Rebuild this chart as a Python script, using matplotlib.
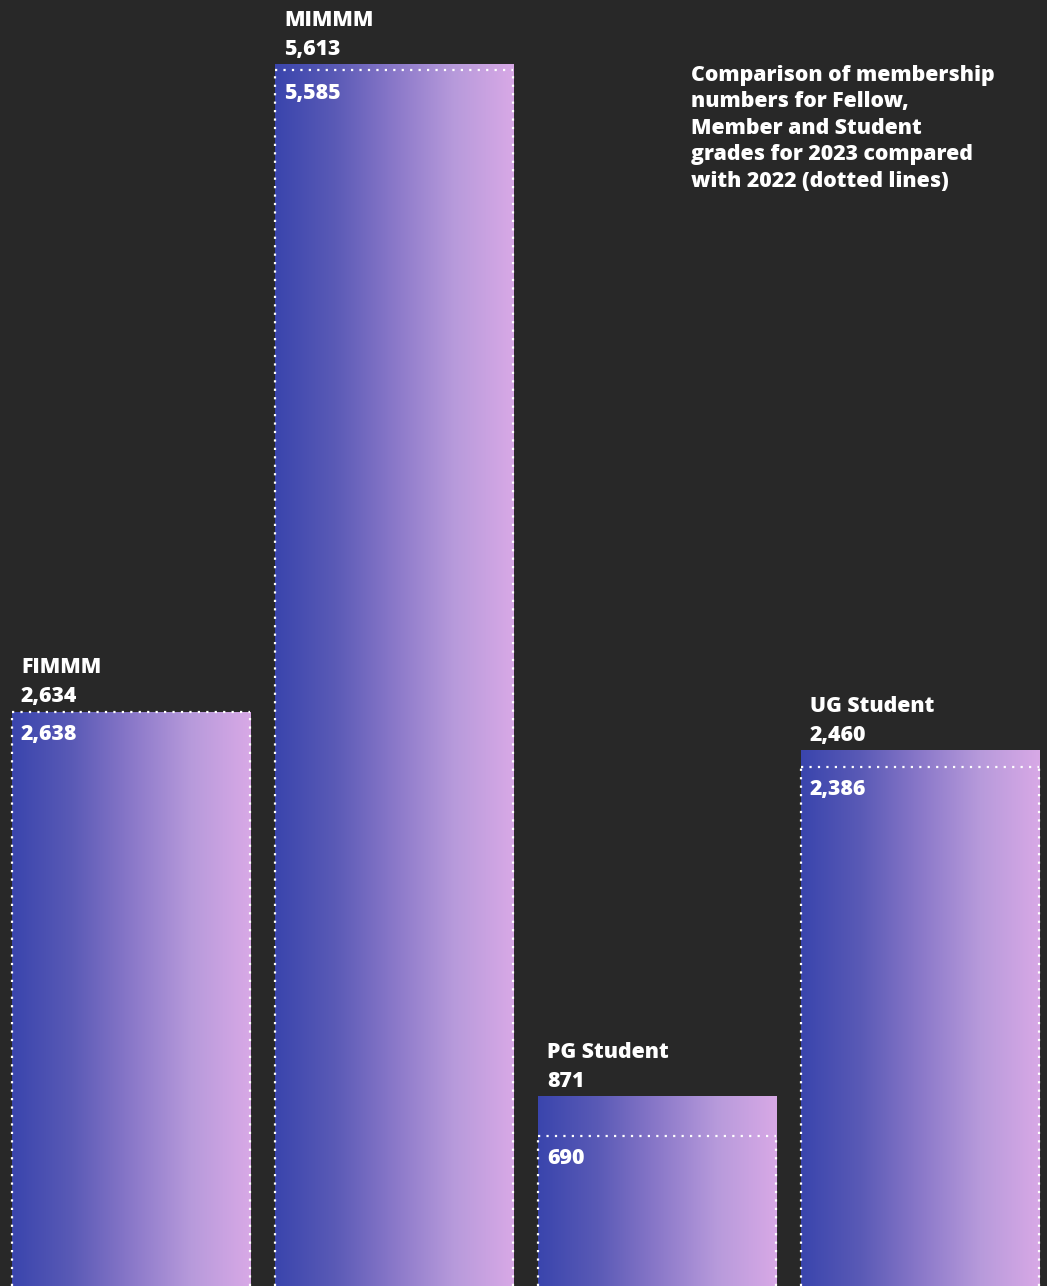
import numpy as np
import matplotlib.pyplot as plt
from matplotlib.colors import LinearSegmentedColormap

# membership numbers
grades = ["FIMMM", "MIMMM", "PG Student", "UG Student"]
members_2023 = [2634, 5613, 871, 2460]
members_2022 = [2638, 5585, 690, 2386]

title = ("Comparison of membership\nnumbers for Fellow,\nMember and Student\n"
         "grades for 2023 compared\nwith 2022 (dotted lines)")

BG = "#282828"
grad = LinearSegmentedColormap.from_list(
    "imm", ["#3a45ad", "#5a5ab6", "#8a78c9", "#b79adb", "#d8a9e6"])

plt.rcParams["font.family"] = ["Open Sans", "DejaVu Sans"]

fig = plt.figure(figsize=(10.47, 12.86), dpi=100, facecolor=BG)
ax = fig.add_axes([0, 0, 1, 1])
ax.set_facecolor(BG)

width = 0.905
ax.set_xlim(-0.498, 3.483)
ax.set_ylim(0, 5907)

ramp = np.linspace(0, 1, 256).reshape(1, -1)
for i, (name, v23, v22) in enumerate(zip(grades, members_2023, members_2022)):
    x0, x1 = i - width / 2, i + width / 2
    ax.imshow(ramp, cmap=grad, aspect="auto", extent=(x0, x1, 0, v23),
              interpolation="bilinear", zorder=1)

    # 2022 outline as dotted box
    dot = dict(color="white", linewidth=1.6, linestyle=(0, (1, 2.8)),
               zorder=3)
    ax.plot([x0, x1], [v22, v22], **dot)
    ax.plot([x0, x0], [0, v22], **dot)
    ax.plot([x1, x1], [0, v22], **dot)

    top = max(v23, v22)
    txt = dict(color="white", fontsize=15.3, fontweight=800,
               textcoords="offset pixels", ha="left", va="center", zorder=4)
    ax.annotate(name, (x0, top), xytext=(9, 44), **txt)
    ax.annotate(f"{v23:,}", (x0, top), xytext=(9, 15), **txt)
    ax.annotate(f"{v22:,}", (x0, v22), xytext=(9, -23), **txt)

fig.text(691 / 1047, 1 - 65 / 1286, title, color="white", fontsize=15.3,
         fontweight=800, ha="left", va="top", linespacing=1.34)

ax.axis("off")
fig.savefig("out.png", dpi=100, facecolor=BG)
